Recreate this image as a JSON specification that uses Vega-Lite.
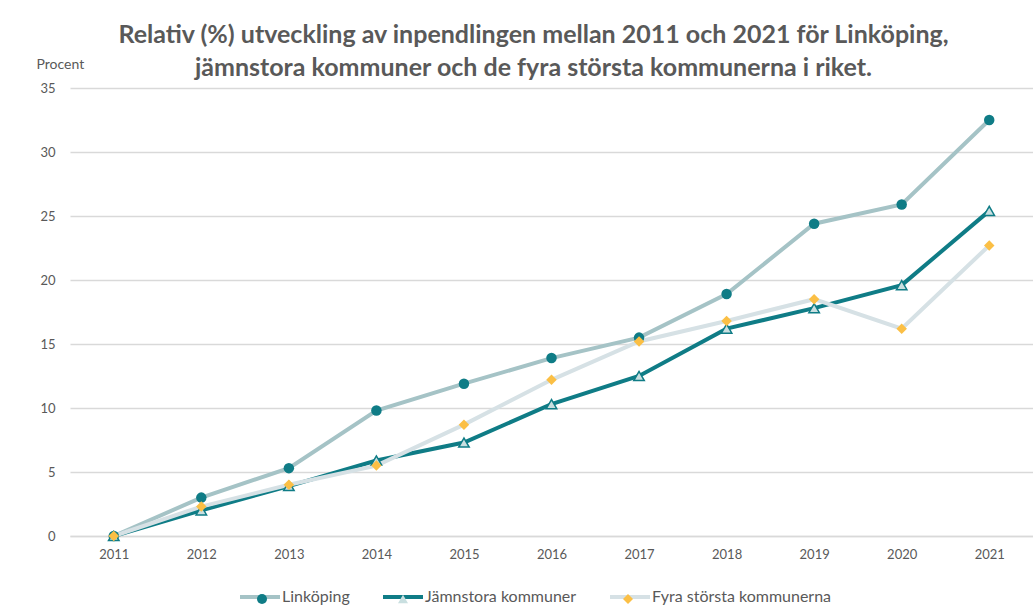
{
  "$schema": "https://vega.github.io/schema/vega-lite/v6.json",
  "width": 963,
  "height": 448,
  "autosize": "none",
  "padding": {"left": 70, "top": 88, "right": 0, "bottom": 71},
  "background": "white",
  "title": {
    "text": ["Relativ (%) utveckling av inpendlingen mellan 2011 och 2021 för Linköping,", "jämnstora kommuner och de fyra största kommunerna i riket."],
    "font": "Lato",
    "fontSize": 25,
    "fontWeight": "bold",
    "color": "#595959",
    "anchor": "middle",
    "dx": -18,
    "dy": 38,
    "offset": 14,
    "lineHeight": 33
  },
  "config": {
    "view": {"stroke": null},
    "font": "Lato",
    "axis": {"labelFont": "Lato", "titleFont": "Lato"},
    "legend": {"labelFont": "Lato"}
  },
  "data": {
    "values": [
      {"year": "2011", "series": "Linköping", "value": 0},
      {"year": "2012", "series": "Linköping", "value": 3.0},
      {"year": "2013", "series": "Linköping", "value": 5.3},
      {"year": "2014", "series": "Linköping", "value": 9.8},
      {"year": "2015", "series": "Linköping", "value": 11.9},
      {"year": "2016", "series": "Linköping", "value": 13.9},
      {"year": "2017", "series": "Linköping", "value": 15.5},
      {"year": "2018", "series": "Linköping", "value": 18.9},
      {"year": "2019", "series": "Linköping", "value": 24.4},
      {"year": "2020", "series": "Linköping", "value": 25.9},
      {"year": "2021", "series": "Linköping", "value": 32.5},
      {"year": "2011", "series": "Jämnstora kommuner", "value": 0},
      {"year": "2012", "series": "Jämnstora kommuner", "value": 2.0},
      {"year": "2013", "series": "Jämnstora kommuner", "value": 3.9},
      {"year": "2014", "series": "Jämnstora kommuner", "value": 5.9},
      {"year": "2015", "series": "Jämnstora kommuner", "value": 7.3},
      {"year": "2016", "series": "Jämnstora kommuner", "value": 10.3},
      {"year": "2017", "series": "Jämnstora kommuner", "value": 12.5},
      {"year": "2018", "series": "Jämnstora kommuner", "value": 16.2},
      {"year": "2019", "series": "Jämnstora kommuner", "value": 17.8},
      {"year": "2020", "series": "Jämnstora kommuner", "value": 19.6},
      {"year": "2021", "series": "Jämnstora kommuner", "value": 25.4},
      {"year": "2011", "series": "Fyra största kommunerna", "value": 0},
      {"year": "2012", "series": "Fyra största kommunerna", "value": 2.3},
      {"year": "2013", "series": "Fyra största kommunerna", "value": 4.0},
      {"year": "2014", "series": "Fyra största kommunerna", "value": 5.5},
      {"year": "2015", "series": "Fyra största kommunerna", "value": 8.7},
      {"year": "2016", "series": "Fyra största kommunerna", "value": 12.2},
      {"year": "2017", "series": "Fyra största kommunerna", "value": 15.2},
      {"year": "2018", "series": "Fyra största kommunerna", "value": 16.8},
      {"year": "2019", "series": "Fyra största kommunerna", "value": 18.5},
      {"year": "2020", "series": "Fyra största kommunerna", "value": 16.2},
      {"year": "2021", "series": "Fyra största kommunerna", "value": 22.7}
    ]
  },
  "encoding": {
    "x": {
      "field": "year",
      "type": "ordinal",
      "scale": {"type": "point", "padding": 0.5},
      "axis": {
        "title": null,
        "labelAngle": 0,
        "labelFontSize": 13,
        "labelColor": "#595959",
        "labelPadding": 12,
        "ticks": false,
        "domainColor": "#d9d9d9",
        "domainWidth": 1.5,
        "grid": false
      }
    },
    "y": {
      "field": "value",
      "type": "quantitative",
      "scale": {"domain": [0, 35], "nice": false},
      "axis": {
        "values": [0, 5, 10, 15, 20, 25, 30, 35],
        "title": "Procent",
        "titleAngle": 0,
        "titleAlign": "left",
        "titleBaseline": "middle",
        "titleX": -34,
        "titleY": -24,
        "titleFontSize": 14,
        "titleFontWeight": "normal",
        "titleColor": "#595959",
        "labelFontSize": 13,
        "labelColor": "#595959",
        "labelPadding": 15,
        "ticks": false,
        "domain": false,
        "gridColor": "#d9d9d9",
        "gridWidth": 1.5
      }
    }
  },
  "layer": [
    {
      "mark": {"type": "line", "strokeWidth": 4},
      "encoding": {
        "color": {
          "field": "series",
          "type": "nominal",
          "sort": ["Linköping", "Jämnstora kommuner", "Fyra största kommunerna"],
          "scale": {
            "range": ["#a5c3c6", "#0f7c86", "#d6e1e5"]
          },
          "legend": {
            "title": null,
            "orient": "none",
            "direction": "horizontal",
            "legendX": 168,
            "legendY": 487,
            "padding": 0,
            "symbolType": "stroke",
            "symbolSize": 1600,
            "symbolStrokeWidth": 4,
            "labelOffset": 0,
            "columnPadding": 25,
            "labelFontSize": 16,
            "labelLimit": 400,
            "labelColor": "#595959",
            "zindex": 0
          }
        }
      }
    },
    {
      "mark": {"type": "point", "filled": true, "size": 110, "opacity": 1},
      "encoding": {
        "fill": {
          "field": "series",
          "type": "nominal",
          "scale": {
            "domain": ["Linköping", "Jämnstora kommuner", "Fyra största kommunerna"],
            "range": ["#0f7c86", "#c9dfe0", "#fbbf45"]
          },
          "legend": {
            "title": null,
            "orient": "none",
            "direction": "horizontal",
            "legendX": 184,
            "legendY": 503,
            "padding": 0,
            "symbolSize": 100,
            "symbolStrokeWidth": 1.5,
            "labelOffset": 16,
            "columnPadding": 41,
            "labelFontSize": 16,
            "labelLimit": 400,
            "labelColor": "rgba(0,0,0,0)",
            "zindex": 1,
            "encode": {
              "symbols": {
                "update": {
                  "stroke": {"signal": "datum.label === 'Jämnstora kommuner' ? '#0f7c86' : 'transparent'"},
                  "strokeWidth": {"value": 1.5}
                }
              }
            }
          }
        },
        "shape": {
          "field": "series",
          "type": "nominal",
          "scale": {
            "domain": ["Linköping", "Jämnstora kommuner", "Fyra största kommunerna"],
            "range": ["circle", "triangle-up", "diamond"]
          },
          "legend": {
            "title": null,
            "orient": "none",
            "direction": "horizontal",
            "legendX": 184,
            "legendY": 503,
            "padding": 0,
            "symbolSize": 100,
            "symbolStrokeWidth": 1.5,
            "labelOffset": 16,
            "columnPadding": 41,
            "labelFontSize": 16,
            "labelLimit": 400,
            "labelColor": "rgba(0,0,0,0)",
            "zindex": 1
          }
        },
        "stroke": {
          "condition": {"test": "datum.series === 'Jämnstora kommuner'", "value": "#0f7c86"},
          "value": "transparent"
        },
        "strokeWidth": {"value": 1.5}
      }
    }
  ]
}
